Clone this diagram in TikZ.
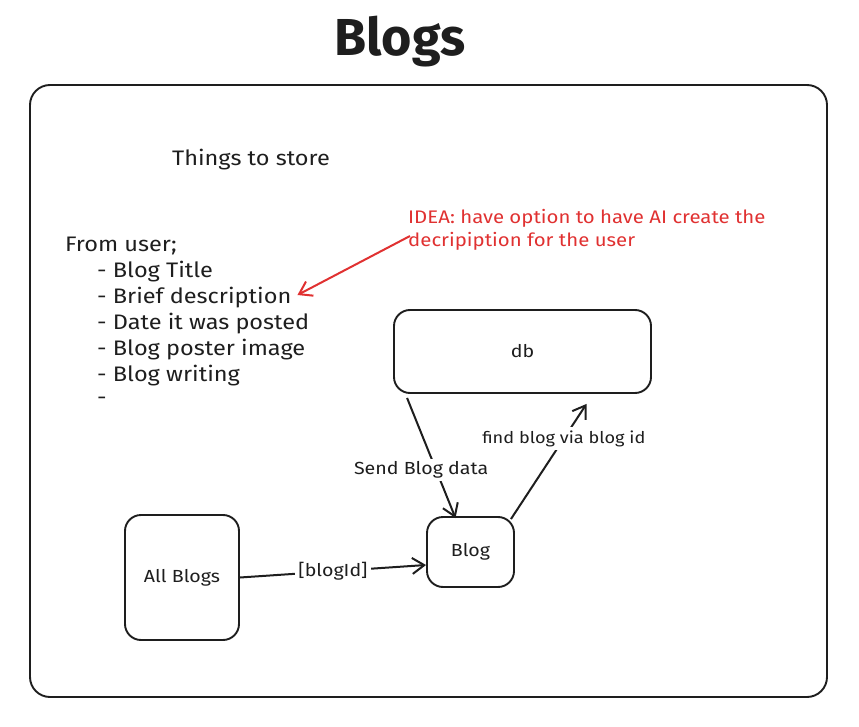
\documentclass[tikz,border=0pt]{standalone}
\usepackage{fontspec}
\setmainfont{Fira Sans}[FakeStretch=1.12]
\newfontfamily\titlefont{Fira Sans}
\usetikzlibrary{arrows.meta,calc}
\definecolor{ink}{HTML}{1E1E1E}
\definecolor{note}{HTML}{E03131}
\tikzset{
  box/.style={draw=ink, line width=1.9pt, rounded corners=16pt, inner sep=0pt, font=\fontsize{17.5}{21}\selectfont, text=ink},
  txt/.style={inner sep=0pt, text=ink, font=\fontsize{21}{25}\selectfont},
  conn/.style={draw=ink, line width=2pt, -{Straight Barb[length=12pt,width=16pt,line width=2pt]}},
  lbl/.style={fill=white, inner sep=3pt, text=ink, font=\fontsize{17.5}{21}\selectfont},
}
\begin{document}
\begin{tikzpicture}[x=1pt,y=-1pt]
\useasboundingbox (0,0) rectangle (859,727);

% title and frame
\node[txt, font=\titlefont\fontsize{52}{56}\bfseries] (title) at (400,42) {Blogs};
\draw[ink, line width=1.9pt, rounded corners=20pt] (30,85) rectangle (827,697);

% notes on what to store
\node[txt] (things) at (251,160) {Things to store};
\node[txt, anchor=west] (fromuser) at (65,246) {From user;};
\node[txt, anchor=west] (title1) at (97,272) {- Blog Title};
\node[txt, anchor=west] (brief) at (97,298) {- Brief description};
\node[txt, anchor=west] (date) at (97,324) {- Date it was posted};
\node[txt, anchor=west] (poster) at (97,350) {- Blog poster image};
\node[txt, anchor=west] (writing) at (97,376) {- Blog writing};
\node[txt, anchor=west] (blank) at (97,401) {-};

% idea note
\node[txt, text=note, anchor=west, align=left, font=\fontsize{18.2}{23}\selectfont] (idea) at (408,230)
  {IDEA: have option to have AI create the\\decripiption for the user};
\draw[note, line width=2pt, -{Straight Barb[length=12pt,width=16pt,line width=2pt]}]
  ($(idea.west)+(2,6)$) -- ($(brief.east)+(6,-3)$);

% components
\node[box, minimum width=257pt, minimum height=83pt] (db) at (522.5,351.5) {db};
\node[box, minimum width=87pt, minimum height=70pt] (blog) at (470.5,552) {Blog};
\node[box, minimum width=114pt, minimum height=125pt] (all) at (182,577.5) {All Blogs};

% connectors
\draw[conn] (all.east) -- node[lbl, pos=0.5] {[blogId]} ($(blog.west)+(0,13)$);
\draw[conn] ($(db.south west)+(14,4)$) -- node[lbl, pos=0.6, xshift=-15pt] {Send Blog data} ($(blog.north)+(-15,2)$);
\draw[conn] ($(blog.north east)+(-4,3)$) -- node[lbl, pos=0.7, font=\fontsize{16.2}{20}\selectfont] {find blog via blog id} ($(db.south)+(64,10)$);
\end{tikzpicture}
\end{document}
